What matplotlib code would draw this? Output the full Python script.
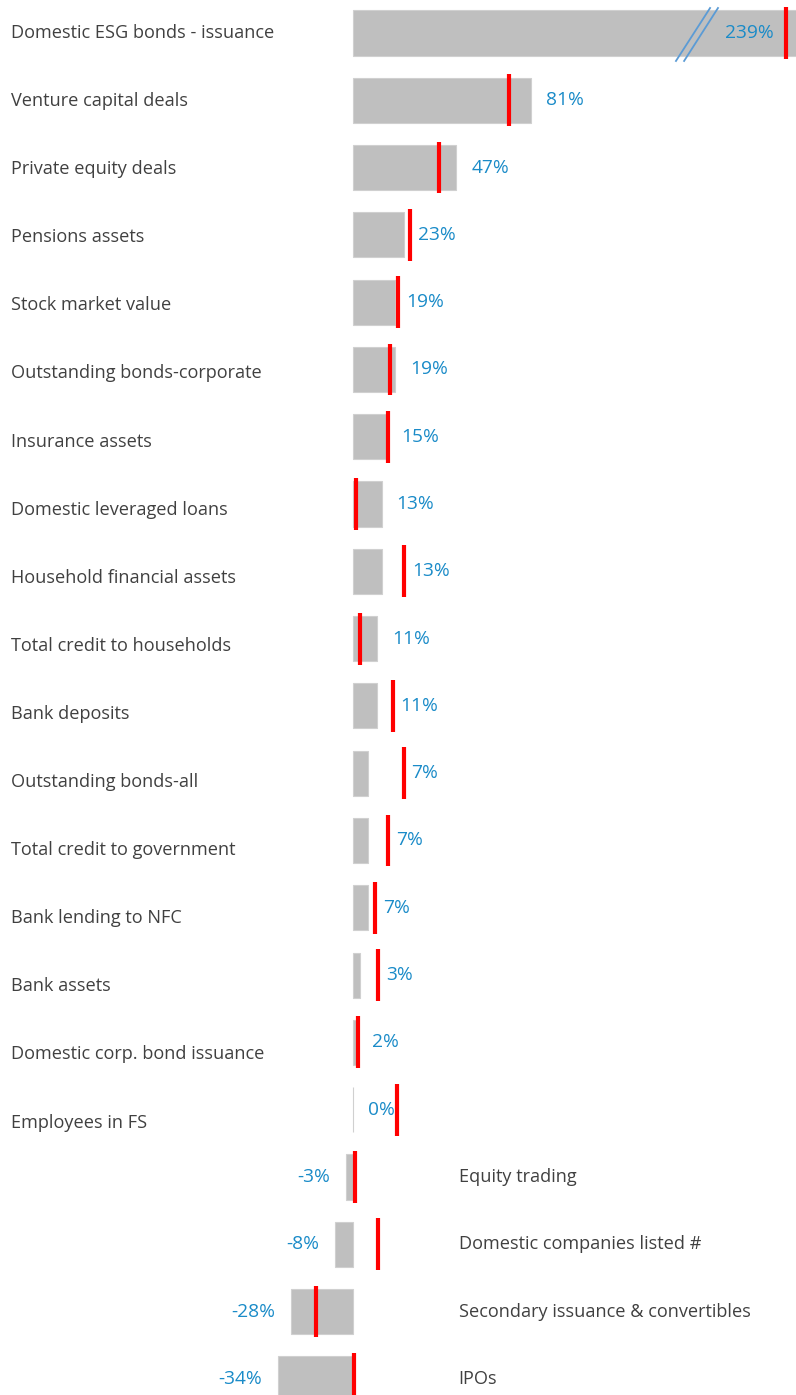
import numpy as np
import matplotlib
matplotlib.use('Agg')
import matplotlib.pyplot as plt
import matplotlib.transforms as mtransforms

plt.rcParams['font.family'] = ['Open Sans', 'DejaVu Sans']

categories = ['Domestic ESG bonds - issuance', 'Venture capital deals', 'Private equity deals',
              'Pensions assets', 'Stock market value', 'Outstanding bonds-corporate',
              'Insurance assets', 'Domestic leveraged loans', 'Household financial assets',
              'Total credit to households', 'Bank deposits', 'Outstanding bonds-all',
              'Total credit to government', 'Bank lending to NFC', 'Bank assets',
              'Domestic corp. bond issuance', 'Employees in FS', 'Equity trading',
              'Domestic companies listed #', 'Secondary issuance & convertibles', 'IPOs']
values = [239, 81, 47, 23, 19, 19, 15, 13, 13, 11, 11, 7, 7, 7, 3, 2, 0, -3, -8, -28, -34]
# red benchmark markers (first one)
markers = [197, 71, 39, 26, 20.5, 17, 16, 1.5, 23.3, 3.3, 18, 23, 16, 10, 11.4, 2.4, 20.1,
           1.0, 11.5, -16.7, 0.6]

axis_cap = 205  # bars beyond this are drawn broken

grey = '#BFBFBF'
blue = '#1A8BC8'
red = '#FF0000'
txt = '#404040'

fig = plt.figure(figsize=(7.96, 13.95), dpi=100)
ax = fig.add_axes([0, 0, 1, 1])

n = len(categories)
y = np.arange(n)
px = 2.2  # pixels per percentage point

shown = [min(v, axis_cap) for v in values]
ax.barh(y, shown, height=0.67, color=grey, edgecolor='#D0D0D0', linewidth=0.8)
ax.vlines(markers, y - 0.385, y + 0.385, color=red, linewidth=3)

trans = mtransforms.blended_transform_factory(ax.transAxes, ax.transData)
for i, (c, v, m) in enumerate(zip(categories, values, markers)):
    lab = f'{v}%'
    if v >= 0:
        ax.text(11 / 796, i + 0.012 * i, c, transform=trans, ha='left', va='center',
                fontsize=13.1, color=txt)
        if v > axis_cap:
            ax.text(m - 13 / px, i, lab, ha='right', va='center', fontsize=13.8, color=blue)
            continue
        x = v + 15 / px
        if x - 12 / px <= m <= x + 28 / px:
            x = m + 8 / px
        ax.text(x, i, lab, ha='left', va='center', fontsize=13.8, color=blue)
    else:
        ax.text(48, i, c, ha='left', va='center', fontsize=13.1, color=txt)
        ax.text(v - 16 / px, i, lab, ha='right', va='center', fontsize=13.8, color=blue)

# axis break on the first bar
for x0, x1 in [(146.8, 162.3), (150.5, 165.9)]:
    ax.plot([x0, x1], [0.416, -0.371], color='#5B9BD5', linewidth=1.3)

ax.set_xlim(-353 / px, 443 / px)
ax.set_ylim(n - 1 + 0.24, -0.49)
ax.axis('off')

fig.savefig('out.png', dpi=100)
